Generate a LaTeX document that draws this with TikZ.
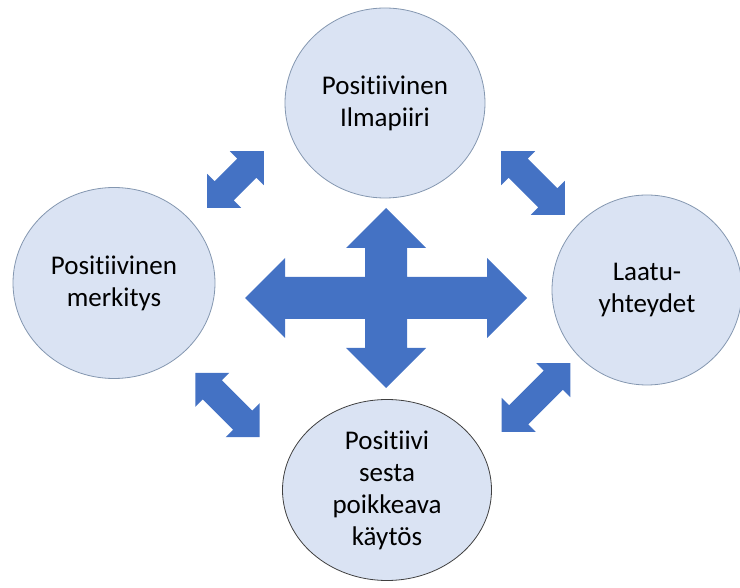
\documentclass[tikz,border=0pt]{standalone}
\usepackage{fontspec}
\setmainfont{Carlito}[Ligatures=NoCommon]
\usetikzlibrary{shapes.geometric}

\definecolor{ballfill}{HTML}{DAE3F3}
\definecolor{ballline}{HTML}{8497B0}
\definecolor{ballrim}{HTML}{404040}
\definecolor{arrowblue}{HTML}{4472C4}

\begin{document}
\begin{tikzpicture}[x=1pt,y=-1pt,
    ball/.style={ellipse,fill=ballfill,draw=ballline,line width=0.8pt,
        align=center,inner sep=0pt,font=\fontsize{27}{32}\selectfont},
    blockarrow/.style={fill=arrowblue}]
    \useasboundingbox (0,0) rectangle (740,588);
    % circles
    \node[ball,minimum width=200pt,minimum height=190pt] (ilmapiiri) at (385,103) {Positiivinen\\Ilmapiiri};
    \node[ball,minimum width=202pt,minimum height=191pt] (merkitys) at (114,283) {Positiivinen\\merkitys};
    \node[ball,minimum width=190pt,minimum height=190pt] (laatu) at (647,290) {Laatu-\\yhteydet};
    \node[ball,draw=ballrim,minimum width=209pt,minimum height=181pt] (kaytos) at (387,490) {Positiivi\\sesta\\poikkeava\\käytös};
    % cross arrow in the middle
    \def\hx{141} \def\hb{101} \def\vy{90} \def\vb{50} \def\sw{21} \def\hw{40}
    \coordinate (C) at (386,298);
    \fill[blockarrow,shift={(C)}] (\hx,0) -- (\hb,\hw) -- (\hb,\sw) -- (\sw,\sw) -- (\sw,\vb) -- (\hw,\vb)
        -- (0,\vy) -- (-\hw,\vb) -- (-\sw,\vb) -- (-\sw,\sw) -- (-\hb,\sw) -- (-\hb,\hw)
        -- (-\hx,0) -- (-\hb,-\hw) -- (-\hb,-\sw) -- (-\sw,-\sw) -- (-\sw,-\vb) -- (-\hw,-\vb)
        -- (0,-\vy) -- (\hw,-\vb) -- (\sw,-\vb) -- (\sw,-\sw) -- (\hb,-\sw) -- (\hb,-\hw) -- cycle;
    % diagonal double arrows
    \foreach \cx/\cy/\ang/\len in {235.5/179.5/45/40, 533/183/-45/45, 227.5/405/-45/45.5, 536/397.5/45/48.5}{
        \pgfmathsetmacro\hbase{\len-24}
        \fill[blockarrow,shift={(\cx,\cy)},rotate=\ang] (\len,0) -- (\hbase,24) -- (\hbase,13.5) -- (-\hbase,13.5)
            -- (-\hbase,24) -- (-\len,0) -- (-\hbase,-24) -- (-\hbase,-13.5) -- (\hbase,-13.5) -- (\hbase,-24) -- cycle;
    }
\end{tikzpicture}
\end{document}
